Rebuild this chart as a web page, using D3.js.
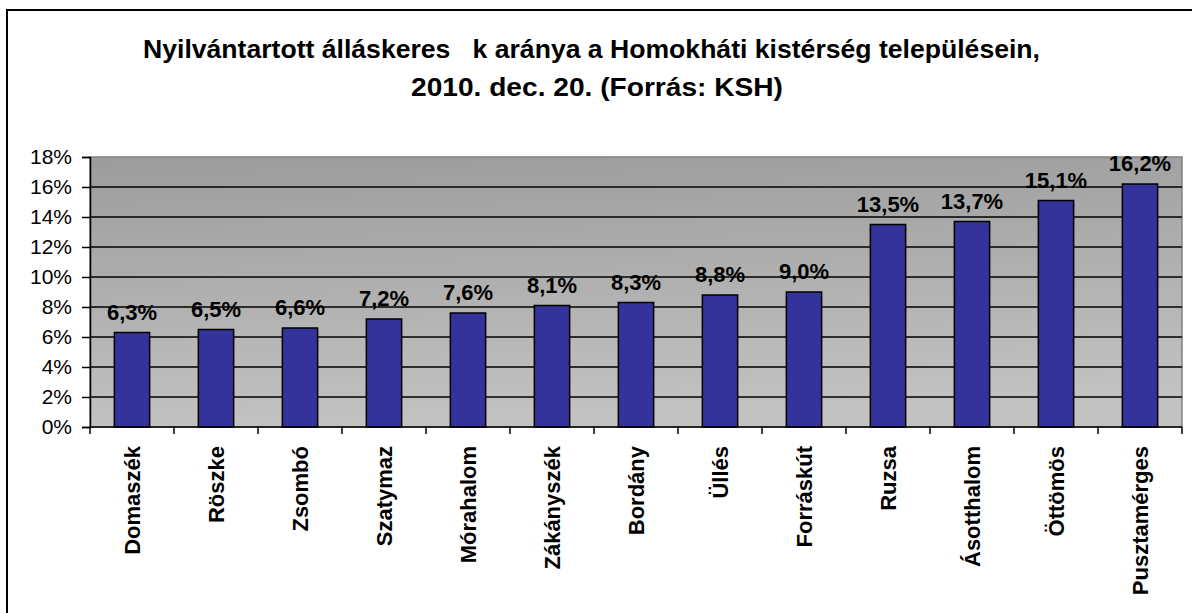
<!DOCTYPE html>
<html>
<head>
<meta charset="utf-8">
<script src="https://cdn.jsdelivr.net/npm/d3@7"></script>
<style>
  html, body { margin: 0; padding: 0; background: #fff; }
  svg { display: block; font-family: "Liberation Sans", Arial, sans-serif; }
</style>
</head>
<body>
<div id="chart"></div>
<script>
// Data
const settlements = ['Domaszék', 'Röszke', 'Zsombó', 'Szatymaz', 'Mórahalom', 'Zákányszék',
  'Bordány', 'Üllés', 'Forráskút', 'Ruzsa', 'Ásotthalom', 'Öttömös', 'Pusztamérges'];
const jobseekerRate = [6.3, 6.5, 6.6, 7.2, 7.6, 8.1, 8.3, 8.8, 9.0, 13.5, 13.7, 15.1, 16.2];
const yTicks = [0, 2, 4, 6, 8, 10, 12, 14, 16, 18];
const titleLines = [
  'Nyilvántartott álláskeres   k aránya a Homokháti kistérség településein,',
  '2010. dec. 20. (Forrás: KSH)'
];

const width = 1192;
const height = 613;
const plot = { left: 90, right: 1182, top: 157, bottom: 427 };

const svg = d3.select('#chart').append('svg')
  .attr('width', width)
  .attr('height', height);

// Outer chart frame
svg.append('rect')
  .attr('x', 7)
  .attr('y', 10)
  .attr('width', width + 10)
  .attr('height', height + 10)
  .attr('fill', '#fff')
  .attr('stroke', '#000')
  .attr('stroke-width', 2);

// Title (two centred lines)
const titleSpan = [[143, 1040], [411, 783]];
svg.append('g')
  .selectAll('text')
  .data(titleLines)
  .join('text')
  .attr('x', (d, i) => titleSpan[i][0])
  .attr('y', (d, i) => 58 + i * 38)
  .attr('textLength', (d, i) => titleSpan[i][1] - titleSpan[i][0])
  .attr('lengthAdjust', 'spacingAndGlyphs')
  .attr('font-size', 25)
  .attr('font-weight', 'bold')
  .style('white-space', 'pre')
  .text(d => d);

// Scales
const x = d3.scaleBand()
  .domain(settlements)
  .range([plot.left, plot.right])
  .paddingInner(0.58)
  .paddingOuter(0.29);

const y = d3.scaleLinear()
  .domain([0, 18])
  .range([plot.bottom, plot.top]);

// Plot background gradient
const defs = svg.append('defs');
const grad = defs.append('linearGradient')
  .attr('id', 'bg')
  .attr('x1', '0%').attr('y1', '0%')
  .attr('x2', '15%').attr('y2', '100%');
grad.append('stop').attr('offset', '0%').attr('stop-color', '#9c9c9c');
grad.append('stop').attr('offset', '100%').attr('stop-color', '#c2c2c2');

svg.append('rect')
  .attr('x', plot.left)
  .attr('y', plot.top)
  .attr('width', plot.right - plot.left)
  .attr('height', plot.bottom - plot.top)
  .attr('fill', 'url(#bg)')
  .attr('stroke', '#808080')
  .attr('stroke-width', 1.5);

// Gridlines
svg.append('g')
  .selectAll('line')
  .data(yTicks.filter(d => d > 0 && d < 18))
  .join('line')
  .attr('x1', plot.left)
  .attr('x2', plot.right)
  .attr('y1', d => y(d))
  .attr('y2', d => y(d))
  .attr('stroke', '#000')
  .attr('stroke-width', 1.5);

// Bars
svg.append('g')
  .selectAll('rect')
  .data(jobseekerRate)
  .join('rect')
  .attr('x', (d, i) => x(settlements[i]))
  .attr('y', d => y(d))
  .attr('width', x.bandwidth())
  .attr('height', d => y(0) - y(d))
  .attr('fill', '#333399')
  .attr('stroke', '#000')
  .attr('stroke-width', 1.5);

// Value labels
const fmt = d => d.toFixed(1).replace('.', ',') + '%';
svg.append('g')
  .selectAll('text')
  .data(jobseekerRate)
  .join('text')
  .attr('x', (d, i) => x(settlements[i]) + x.bandwidth() / 2)
  .attr('y', d => y(d) - 13)
  .attr('text-anchor', 'middle')
  .attr('font-size', 22)
  .attr('font-weight', 'bold')
  .text(fmt);

// Y axis
const yAxis = d3.axisLeft(y)
  .tickValues(yTicks)
  .tickSize(8)
  .tickPadding(10)
  .tickFormat(d => d + '%');

const yG = svg.append('g')
  .attr('transform', `translate(${plot.left},0)`)
  .call(yAxis);
yG.select('.domain').attr('stroke', '#000').attr('stroke-width', 1.5);
yG.selectAll('.tick line').attr('stroke', '#000').attr('stroke-width', 1.5);
yG.selectAll('.tick text')
  .attr('font-size', 21)
  .attr('font-family', '"Liberation Sans", Arial, sans-serif')
  .attr('fill', '#000');

// X axis: ticks between categories
const boundaries = d3.range(settlements.length + 1)
  .map(i => plot.left + i * (plot.right - plot.left) / settlements.length);

const xG = svg.append('g');
xG.append('line')
  .attr('x1', plot.left)
  .attr('x2', plot.right)
  .attr('y1', plot.bottom)
  .attr('y2', plot.bottom)
  .attr('stroke', '#000')
  .attr('stroke-width', 1.5);
xG.selectAll('line.tick')
  .data(boundaries)
  .join('line')
  .attr('class', 'tick')
  .attr('x1', d => d)
  .attr('x2', d => d)
  .attr('y1', plot.bottom)
  .attr('y2', plot.bottom + 7)
  .attr('stroke', '#000')
  .attr('stroke-width', 1.5);

// Category labels, rotated
xG.selectAll('text')
  .data(settlements)
  .join('text')
  .attr('transform', d => `translate(${x(d) + x.bandwidth() / 2},446) rotate(-90)`)
  .attr('dy', '0.35em')
  .attr('text-anchor', 'end')
  .attr('font-size', 22)
  .attr('font-weight', 'bold')
  .text(d => d);
</script>
</body>
</html>
